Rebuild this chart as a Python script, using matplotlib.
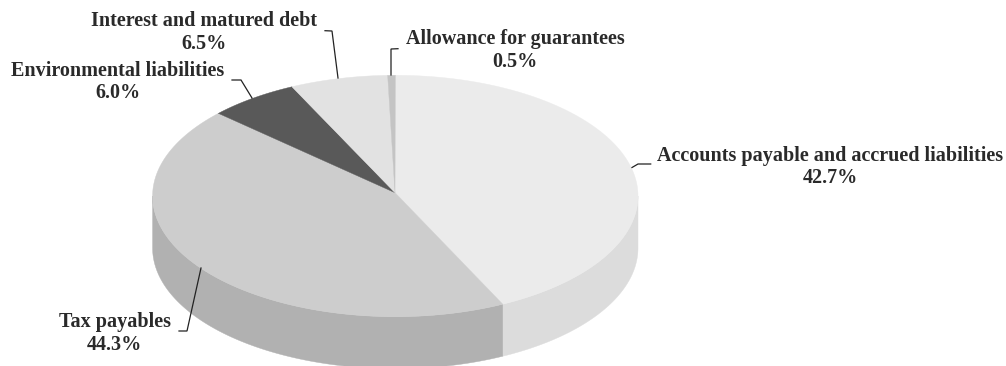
import numpy as np
import matplotlib
matplotlib.use("Agg")
import matplotlib.pyplot as plt

categories = ["Accounts payable and accrued liabilities", "Tax payables",
              "Environmental liabilities", "Interest and matured debt",
              "Allowance for guarantees"]
shares = [42.7, 44.3, 6.0, 6.5, 0.5]
top_colors = ["#ebebeb", "#cdcdcd", "#595959", "#e2e2e2", "#c4c4c4"]
side_colors = ["#dcdcdc", "#b1b1b1", "#444444", "#cfcfcf", "#b0b0b0"]

W, H = 1006, 366
CX, CY, RX, RY, DEPTH = 395.3, 196.0, 242.7, 120.7, 52.0
APEX = (395.0, 192.7)

# label centre x, first and second baseline, leader path (all in pixels)
label_pos = [(830.5, 160.7, 183), (114.7, 327.3, 350), (118, 76, 97.7),
             (204, 26, 49), (515, 44.3, 67.3)]
leaders = [
    [(650.7, 164), (638, 164), (632, 167.5)],
    [(179, 331), (187, 331), (201, 268)],
    [(232, 80), (241, 80), (252, 98)],
    [(325, 30.7), (332, 31), (338, 78)],
    [(398, 48.7), (391, 49), (391, 75)],
]

fig = plt.figure(figsize=(W / 100, H / 100), dpi=100)
ax = fig.add_axes([0, 0, 1, 1])
ax.set_xlim(0, W)
ax.set_ylim(H, 0)
ax.axis("off")


def rim(a):
    """Point on the top ellipse, angle in degrees clockwise from 12 o'clock."""
    t = np.radians(a)
    return CX + RX * np.sin(t), CY - RY * np.cos(t)


edges = np.concatenate([[0], np.cumsum(shares) * 3.6])

# side walls (only the front half, 90..270 degrees, is visible)
for i in range(len(shares)):
    a0, a1 = max(edges[i], 90), min(edges[i + 1], 270)
    if a1 <= a0:
        continue
    ang = np.linspace(a0, a1, 200)
    x, y = rim(ang)
    ax.fill(np.r_[x, x[::-1]], np.r_[y, y[::-1] + DEPTH],
            color=side_colors[i], lw=0.3, zorder=1)

# top surface
for i in range(len(shares)):
    ang = np.linspace(edges[i], edges[i + 1], 300)
    x, y = rim(ang)
    ax.fill(np.r_[APEX[0], x], np.r_[APEX[1], y],
            color=top_colors[i], lw=0.3, zorder=2)

# leaders and labels
for name, val, (lx, y1, y2), path in zip(categories, shares, label_pos, leaders):
    px, py = zip(*path)
    ax.plot(px, py, color="#222222", lw=0.9, zorder=3, solid_joinstyle="miter")
    for txt, yy in ((name, y1), (f"{val:.1f}%", y2)):
        ax.text(lx, yy, txt, ha="center", va="baseline", family="Liberation Serif",
                weight="bold", fontsize=14.5, color="#2a2a2a", zorder=4)

fig.savefig("out.png", dpi=100, facecolor="white")
